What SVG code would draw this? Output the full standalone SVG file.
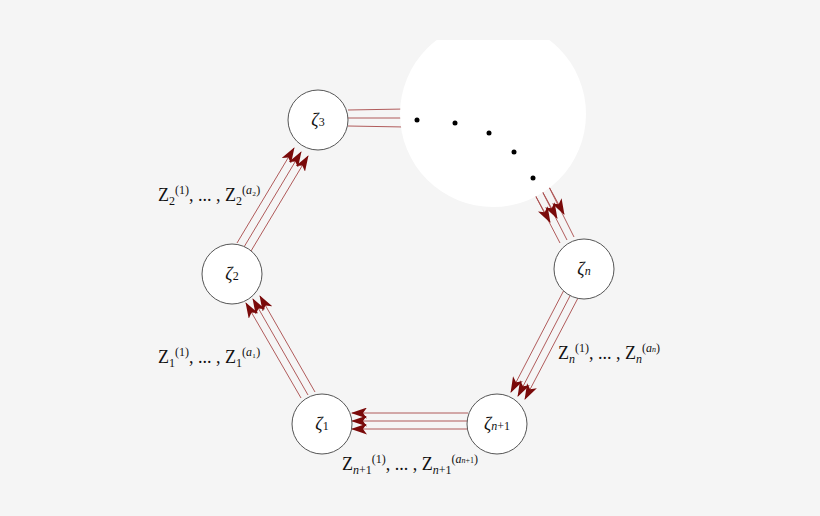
<svg xmlns="http://www.w3.org/2000/svg" width="820" height="516" viewBox="0 0 820 516">
<style>
.n{fill:#fff;stroke:#555;stroke-width:1}
.t{font-family:"Liberation Serif",serif;font-size:18px;fill:#111}
.e line{stroke:#a84a4a;stroke-width:0.9;fill:none}
.s{font-size:12px}
</style>
<defs>
<marker id="a" markerWidth="16" markerHeight="11" refX="15" refY="5.5" orient="auto" markerUnits="userSpaceOnUse"><path d="M0,0 L16,5.5 L0,11 L4,5.5 Z" fill="#7a0a0a"/></marker>
<clipPath id="c"><rect x="0" y="40" width="820" height="476"/></clipPath>
</defs>
<rect width="820" height="516" fill="#f5f5f5"/>
<g id="connectors" class="e">
<line x1="348" y1="110" x2="405" y2="109"/><line x1="348" y1="118" x2="405" y2="118"/><line x1="348" y1="126" x2="405" y2="127"/>
<line x1="237" y1="243" x2="294" y2="148" marker-end="url(#a)"/><line x1="244" y1="247" x2="301" y2="152" marker-end="url(#a)"/><line x1="251" y1="251" x2="308" y2="156" marker-end="url(#a)"/>
<line x1="301" y1="398" x2="246" y2="303" marker-end="url(#a)"/><line x1="308" y1="395" x2="253" y2="299" marker-end="url(#a)"/><line x1="315" y1="392" x2="260" y2="296" marker-end="url(#a)"/>
<line x1="468" y1="413" x2="352" y2="413" marker-end="url(#a)"/><line x1="468" y1="421" x2="352" y2="421" marker-end="url(#a)"/><line x1="468" y1="429" x2="352" y2="429" marker-end="url(#a)"/>
<line x1="564" y1="290" x2="511" y2="392" marker-end="url(#a)"/><line x1="571" y1="294" x2="518" y2="396" marker-end="url(#a)"/><line x1="578" y1="298" x2="525" y2="399" marker-end="url(#a)"/>
<line x1="560" y1="243" x2="534" y2="193"/><line x1="567" y1="240" x2="541" y2="189"/><line x1="574" y1="237" x2="548" y2="185"/>
<line x1="534" y1="193" x2="550" y2="222" marker-end="url(#a)"/><line x1="541" y1="189" x2="557" y2="218" marker-end="url(#a)"/><line x1="548" y1="185" x2="564" y2="214" marker-end="url(#a)"/>
</g>
<g id="cloud"><circle cx="493" cy="114" r="93" fill="#fff" clip-path="url(#c)"/>
<g fill="#000"><circle cx="417" cy="120" r="2.5"/><circle cx="455" cy="123" r="2.5"/><circle cx="489" cy="133" r="2.5"/><circle cx="514" cy="152" r="2.5"/><circle cx="533" cy="178" r="2.5"/></g></g>
<g id="z3"><circle class="n" cx="318" cy="120" r="30"/><text class="t" x="318" y="126" text-anchor="middle"><tspan font-style="italic">ζ</tspan><tspan class="s">3</tspan></text></g>
<g id="z2"><circle class="n" cx="232" cy="274" r="30"/><text class="t" x="232" y="280" text-anchor="middle"><tspan font-style="italic">ζ</tspan><tspan class="s">2</tspan></text></g>
<g id="z1"><circle class="n" cx="322" cy="424" r="30"/><text class="t" x="322" y="430" text-anchor="middle"><tspan font-style="italic">ζ</tspan><tspan class="s">1</tspan></text></g>
<g id="zn1"><circle class="n" cx="497" cy="424" r="30"/><text class="t" x="497" y="430" text-anchor="middle"><tspan font-style="italic">ζ</tspan><tspan class="s"><tspan font-style="italic">n</tspan>+1</tspan></text></g>
<g id="zn"><circle class="n" cx="584" cy="269" r="30"/><text class="t" x="584" y="275" text-anchor="middle"><tspan font-style="italic">ζ</tspan><tspan class="s" font-style="italic">n</tspan></text></g>
<g id="labels" class="t">
<text x="158" y="201">Z<tspan class="s" dy="4">2</tspan><tspan class="s" dy="-11">(1)</tspan><tspan dy="7">, ... , Z</tspan><tspan class="s" dy="4">2</tspan><tspan class="s" dy="-11">(<tspan font-style="italic">a</tspan>₂)</tspan></text>
<text x="158" y="363">Z<tspan class="s" dy="4">1</tspan><tspan class="s" dy="-11">(1)</tspan><tspan dy="7">, ... , Z</tspan><tspan class="s" dy="4">1</tspan><tspan class="s" dy="-11">(<tspan font-style="italic">a</tspan>₁)</tspan></text>
<text x="558" y="359">Z<tspan class="s" dy="4" font-style="italic">n</tspan><tspan class="s" dy="-11">(1)</tspan><tspan dy="7">, ... , Z</tspan><tspan class="s" dy="4" font-style="italic">n</tspan><tspan class="s" dy="-11">(<tspan font-style="italic">a</tspan><tspan font-size="8" font-style="italic">n</tspan>)</tspan></text>
<text x="342" y="470">Z<tspan class="s" dy="4"><tspan font-style="italic">n</tspan>+1</tspan><tspan class="s" dy="-11">(1)</tspan><tspan dy="7">, ... , Z</tspan><tspan class="s" dy="4"><tspan font-style="italic">n</tspan>+1</tspan><tspan class="s" dy="-11">(<tspan font-style="italic">a</tspan><tspan font-size="8"><tspan font-style="italic">n</tspan>+1</tspan>)</tspan></text>
</g>
</svg>
